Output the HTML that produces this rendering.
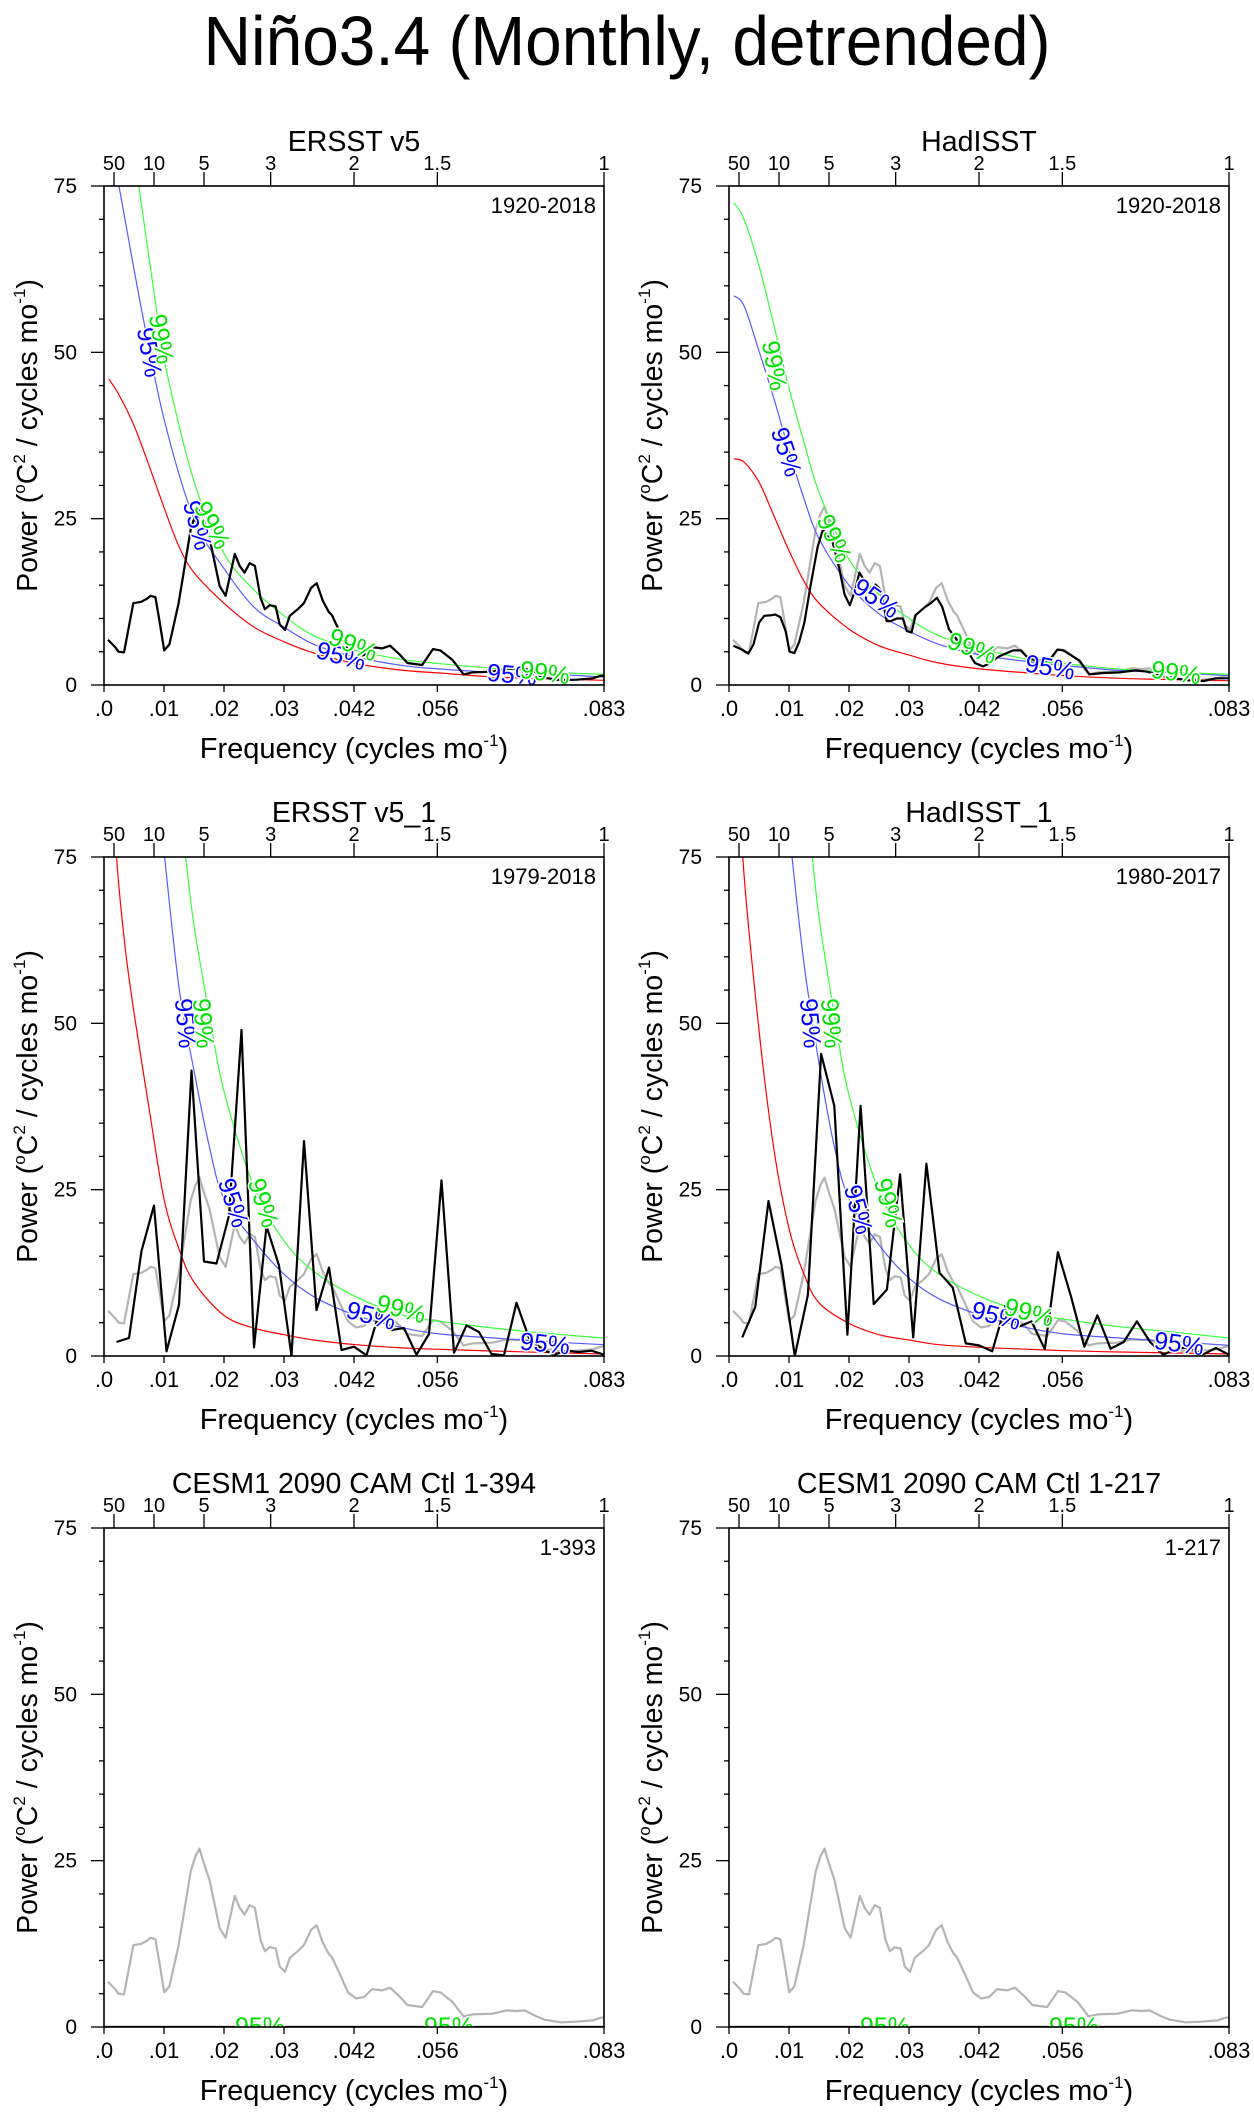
<!DOCTYPE html>
<html><head><meta charset="utf-8"><title>Niño3.4 spectra</title>
<style>
html,body{margin:0;padding:0;background:#fff;}
svg{display:block;font-family:"Liberation Sans",sans-serif;}
</style></head>
<body>
<svg id="fig" width="1254" height="2113" viewBox="0 0 1254 2113" xmlns="http://www.w3.org/2000/svg">
<rect x="0" y="0" width="1254" height="2113" fill="#fff"/>
<text x="627" y="65" font-size="70" text-anchor="middle" textLength="847" lengthAdjust="spacingAndGlyphs">Niño3.4 (Monthly, detrended)</text>
</svg>
<script>
// ---- data ----
const xTickVals=[0,0.01,0.02,0.03,1/24,1/18,1/12];
const xTickLabels=[".0",".01",".02",".03",".042",".056",".083"];
const periodTicks=[50,10,5,3,2,1.5,1];
const yTickVals=[0,25,50,75];

// ERSST v5 1920-2018 (also gray reference in other panels)
const ersstF=[0.00067,0.00187,0.00241,0.00334,0.00488,0.00622,0.00722,0.00776,0.00856,0.00923,0.01003,0.0109,0.01244,0.01338,0.01445,0.01525,0.01592,0.01672,0.01759,0.01926,0.02026,0.0218,0.02261,0.02341,0.02428,0.02515,0.02608,0.02682,0.02762,0.02862,0.02929,0.03016,0.03097,0.0323,0.03331,0.03451,0.03545,0.03645,0.03745,0.03799,0.03933,0.04066,0.042,0.04334,0.04468,0.04635,0.04769,0.04936,0.05056,0.05304,0.05484,0.05605,0.05805,0.05993,0.0614,0.06474,0.06708,0.06875,0.07009,0.07209,0.07343,0.07611,0.07879,0.08146,0.0828,0.08333];
const ersstV=[6.8,5.7,5.0,4.9,12.3,12.5,13.0,13.4,13.2,9.7,5.2,6.1,12.3,17.5,23.4,25.7,26.8,24.4,22.1,14.9,13.4,19.7,17.9,16.9,18.3,17.9,13.1,11.4,12.0,11.8,9.1,8.3,10.4,11.4,12.3,14.6,15.3,12.7,11.0,10.5,7.9,5.2,4.3,4.5,5.7,5.5,5.9,4.5,3.3,3.0,5.4,5.2,3.8,1.6,1.9,2.0,2.5,2.4,2.5,1.6,1.1,0.7,0.8,1.0,1.4,1.4];
// HadISST 1920-2018
const hadF=[0.00074,0.00221,0.00321,0.00408,0.00502,0.00589,0.00722,0.00769,0.00856,0.00943,0.0101,0.0109,0.0117,0.01257,0.01358,0.01478,0.01572,0.01625,0.01726,0.01839,0.01926,0.02013,0.02093,0.02174,0.02261,0.02348,0.02441,0.02528,0.02628,0.02695,0.02796,0.02896,0.02963,0.03043,0.0311,0.03264,0.03364,0.03465,0.03551,0.03665,0.03799,0.03933,0.041,0.04234,0.04334,0.04501,0.04735,0.04869,0.04969,0.05103,0.05337,0.05471,0.05571,0.05839,0.06006,0.0624,0.06507,0.06775,0.06976,0.07176,0.07644,0.07912,0.08113,0.08333];
const hadV=[5.9,5.3,4.7,6.1,9.4,10.4,10.5,10.6,10.2,8.1,5.0,4.8,6.5,9.4,14.9,20.8,23.5,22.8,21.5,17.5,13.6,12.0,14.0,16.9,15.6,14.4,15.1,14.3,9.6,9.6,10.0,10.0,8.1,7.9,10.5,11.7,12.3,13.1,11.8,8.4,6.8,5.7,3.3,2.8,3.2,4.3,5.2,5.2,4.2,3.7,3.7,5.3,5.2,3.7,1.6,1.8,1.9,2.2,2.0,1.4,0.7,0.6,1.0,1.0];
// ERSST v5_1 1979-2018 (N=480 months)
const ersst1N=480;
const ersst1V=[2.1,2.7,15.8,22.6,0.7,7.7,42.9,14.2,13.9,21.1,49,1.3,19.5,13.6,0,32.3,6.9,13.3,0.9,1.4,0.1,6.4,3.9,4.2,0.2,3.3,26.4,0.5,4.6,3.6,0.3,0.1,8.0,2.7,1.1,0.2,0.8,0.6,0.8,0.2];
// HadISST_1 1980-2017 (N=456 months)
const had1N=456;
const had1V=[2.8,7.4,23.3,13.6,0,9.2,45.4,37.6,3.2,37.6,7.8,10,27.3,2.8,28.9,12.5,10.3,1.9,1.6,0.7,7.5,4.4,5.2,1.0,15.6,8.9,1.4,6.1,1.1,2.1,5.2,2.1,0.2,1.1,1.3,0.2,1.2,0.2];

// red-noise / confidence curves
const p1RedF=[0.0008,0.0025,0.005,0.0075,0.01,0.0125,0.015,0.02,0.025,0.03,0.035,0.042,0.05,0.056,0.065,0.075,0.0833];
const p1RedV=[46,43.6,39,33,26.7,20.8,16.9,12.3,8.7,6.5,4.8,3.2,2.2,1.8,1.2,0.9,0.7];
const p1BlueF=[0.0025,0.0062,0.01,0.015,0.02,0.025,0.03,0.035,0.042,0.05,0.056,0.065,0.075,0.0833];
const p1BlueV=[75,56.7,40,25,17.5,11.7,8.7,6.1,4.2,2.9,2.4,1.9,1.6,1.2];
const p1GreenF=[0.0058,0.0087,0.01,0.015,0.02,0.025,0.03,0.035,0.042,0.05,0.056,0.065,0.075,0.0833];
const p1GreenV=[75,56.7,48.9,30.6,19.8,14.3,10.4,7.4,5.2,3.8,3.2,2.5,1.9,1.6];

const p2F=[0.0008,0.0025,0.005,0.0075,0.01,0.0125,0.015,0.02,0.025,0.03,0.035,0.042,0.05,0.056,0.065,0.075,0.0833];
const p2RedV=[34,33.5,30.5,25.4,20.2,15.6,12.3,8.4,5.9,4.5,3.3,2.4,1.8,1.4,1.0,0.8,0.65];
const p2BlueV=[58.5,57,50.2,43,35.2,28,22,15,10.7,8.1,6.1,4.5,3.5,2.9,2.2,1.8,1.4];
const p2GreenV=[72.5,70,63,54,44.6,36.5,29,18.9,13.6,10,7.4,5.5,3.8,3.2,2.4,1.9,1.6];

const p3RedF=[0.0015,0.0021,0.0035,0.005,0.0075,0.01,0.0125,0.015,0.02,0.025,0.03,0.035,0.042,0.05,0.056,0.065,0.075,0.0833];
const p3RedV=[90,75,61.6,51.6,37.3,23.6,16.1,11.1,6.1,4.2,3.2,2.4,1.7,1.2,1.0,0.75,0.5,0.3];
const p3BlueF=[0.0101,0.0125,0.015,0.0175,0.02,0.025,0.03,0.035,0.042,0.05,0.056,0.065,0.075,0.0833];
const p3BlueV=[75,55.4,42.9,31.7,23.6,17.3,12.3,8.9,6.1,4.2,3.3,2.7,2.1,1.7];
const p3GreenF=[0.0136,0.015,0.0175,0.02,0.025,0.03,0.035,0.042,0.05,0.056,0.065,0.075,0.0833];
const p3GreenV=[75,64.7,51.6,39.8,25.4,17.3,12.7,8.9,6.1,5.2,4.2,3.3,2.7];

const p4RedF=[0.0018,0.0023,0.005,0.0075,0.01,0.0125,0.015,0.02,0.025,0.03,0.035,0.042,0.05,0.056,0.065,0.075,0.0833];
const p4RedV=[95,75,49,31,19.2,12.3,8,4.9,3.2,2.4,1.7,1.3,1.0,0.8,0.6,0.45,0.3];
const p4BlueF=[0.0105,0.0125,0.015,0.0175,0.02,0.025,0.03,0.035,0.042,0.05,0.056,0.065,0.075,0.0833];
const p4BlueV=[75,59,44,31.7,23.6,16.7,11.7,8.6,6.1,4.2,3.3,2.7,2.1,1.6];
const p4GreenF=[0.0139,0.015,0.0175,0.02,0.025,0.03,0.035,0.042,0.05,0.056,0.065,0.075,0.0833];
const p4GreenV=[75,66,51.6,39.2,24.8,16.7,12.3,8.9,6.4,5.5,4.4,3.5,2.7];

const zeroF=[0,0.0833];
const zeroV=[0,0];

// ---- layout ----
const NS="http://www.w3.org/2000/svg";
const svg=document.getElementById("fig");
const W=500,H=499,FMAX=1/12,YMAX=75;
function el(tag,attrs,parent){const e=document.createElementNS(NS,tag);for(const k in attrs)e.setAttribute(k,attrs[k]);(parent||svg).appendChild(e);return e;}
function mkX(px){return f=>px+f/FMAX*W;}
function mkY(py){return v=>py+H-v/YMAX*H;}

const panels=[
 {name:"ersst-v5",title:"ERSST v5",years:"1920-2018",px:104,py:186,
  red:[p1RedF,p1RedV],blue:[p1BlueF,p1BlueV],green:[p1GreenF,p1GreenV],gray:true,black:[ersstF,ersstV],
  labels:[["95%","b",0.0075,50,80],["99%","g",0.0095,52,80],["95%","b",0.0155,24,75],["99%","g",0.018,24,62],["95%","b",0.0395,4.3,15],["99%","g",0.0415,6,22],["95%","b",0.068,1.5,5],["99%","g",0.0735,1.8,8]]},
 {name:"hadisst",title:"HadISST",years:"1920-2018",px:729,py:186,
  red:[p2F,p2RedV],blue:[p2F,p2BlueV],green:[p2F,p2GreenV],gray:true,black:[hadF,hadV],
  labels:[["99%","g",0.0075,48,80],["95%","b",0.0095,35,72],["99%","g",0.0175,22,65],["95%","b",0.0245,13,35],["99%","g",0.0405,5.5,20],["95%","b",0.0535,2.6,10],["99%","g",0.0745,1.8,8]]},
 {name:"ersst-v5-1",title:"ERSST v5_1",years:"1979-2018",px:104,py:857,
  red:[p3RedF,p3RedV],blue:[p3BlueF,p3BlueV],green:[p3GreenF,p3GreenV],gray:true,blackN:[ersst1N,ersst1V],
  labels:[["95%","b",0.0135,50,85],["99%","g",0.0165,50,85],["95%","b",0.0215,23,72],["99%","g",0.0265,23,72],["95%","b",0.0445,6,15],["99%","g",0.0495,7,15],["95%","b",0.0735,1.8,6]]},
 {name:"hadisst-1",title:"HadISST_1",years:"1980-2017",px:729,py:857,
  red:[p4RedF,p4RedV],blue:[p4BlueF,p4BlueV],green:[p4GreenF,p4GreenV],gray:true,blackN:[had1N,had1V],
  labels:[["95%","b",0.0135,50,85],["99%","g",0.017,50,85],["95%","b",0.0215,22,75],["99%","g",0.0265,23,75],["95%","b",0.0445,6,15],["99%","g",0.05,6.5,15],["95%","b",0.075,1.8,8]]},
 {name:"cesm1-394",title:"CESM1 2090 CAM Ctl 1-394",years:"1-393",px:104,py:1528,
  gray:true,black:[zeroF,zeroV],labels:[["95%","g",0.026,0,0],["95%","g",0.0575,0,0]]},
 {name:"cesm1-217",title:"CESM1 2090 CAM Ctl 1-217",years:"1-217",px:729,py:1528,
  gray:true,black:[zeroF,zeroV],labels:[["95%","g",0.026,0,0],["95%","g",0.0575,0,0]]}
];

function smoothPath(pts){
  let d="M"+pts[0][0].toFixed(1)+","+pts[0][1].toFixed(1);
  for(let i=0;i<pts.length-1;i++){
    const p0=pts[Math.max(0,i-1)],p1=pts[i],p2=pts[i+1],p3=pts[Math.min(pts.length-1,i+2)];
    const c1=[p1[0]+(p2[0]-p0[0])/6,p1[1]+(p2[1]-p0[1])/6];
    const c2=[p2[0]-(p3[0]-p1[0])/6,p2[1]-(p3[1]-p1[1])/6];
    d+=" C"+c1[0].toFixed(1)+","+c1[1].toFixed(1)+" "+c2[0].toFixed(1)+","+c2[1].toFixed(1)+" "+p2[0].toFixed(1)+","+p2[1].toFixed(1);
  }
  return d;
}
function linePath(pts){return "M"+pts.map(p=>p[0].toFixed(1)+","+p[1].toFixed(1)).join(" L");}

panels.forEach((P,pi)=>{
  const X=mkX(P.px),Y=mkY(P.py);
  const g=el("g",{});
  
  
  const cid="clip"+pi;
  const cp=el("clipPath",{id:cid},g);
  el("rect",{x:P.px,y:P.py,width:W,height:H},cp);
  const plot=el("g",{"clip-path":"url(#"+cid+")"},g);

  if(P.gray){
    const pts=ersstF.map((f,i)=>[X(f),Y(ersstV[i])]);
    const gp=el("path",{d:linePath(pts),fill:"none",stroke:"#b4b4b4","stroke-width":2.2,"stroke-linejoin":"round"},plot);
    
    
  }
  const curves=[["red","#ff0000","markov-red-noise-line"],["blue","#5a5aff","confidence-95-line"],["green","#3cff3c","confidence-99-line"]];
  curves.forEach(c=>{
    if(!P[c[0]])return;
    const F=P[c[0]][0],V=P[c[0]][1];
    const pts=F.map((f,i)=>[X(f),Y(V[i])]);
    const cp2=el("path",{d:smoothPath(pts),fill:"none",stroke:c[1],"stroke-width":1.2},plot);
    
    
  });
  let bpts=null;
  if(P.black){bpts=P.black[0].map((f,i)=>[X(f),Y(P.black[1][i])]);}
  if(P.blackN){const N=P.blackN[0];bpts=P.blackN[1].map((v,i)=>[X((i+1)/N),Y(v)]);}
  if(bpts){
    const bp=el("path",{d:linePath(bpts),fill:"none",stroke:"#000","stroke-width":2.2,"stroke-linejoin":"round"},plot);
    
    
  }
  P.labels.forEach(L=>{
    const x=X(L[2]),y=Y(L[3]);
    const t=el("text",{x:x,y:y,"font-size":25,"text-anchor":"middle","dominant-baseline":"central",fill:L[1]==="b"?"#0000ff":"#00e000",stroke:"#fff","stroke-width":3,"paint-order":"stroke",transform:"rotate("+L[4]+" "+x+" "+y+")"},plot);
    t.textContent=L[0];
    
    
  });
  const fr=el("rect",{x:P.px,y:P.py,width:W,height:H,fill:"none",stroke:"#000","stroke-width":1.6},g);
  
  
  for(let v=0;v<=75;v+=5){
    const major=yTickVals.indexOf(v)>=0;
    el("line",{x1:P.px-(major?13:5),x2:P.px,y1:Y(v),y2:Y(v),stroke:"#000","stroke-width":1.3},g);
  }
  yTickVals.forEach(v=>{
    const t=el("text",{x:P.px-27,y:Y(v)+7,"font-size":21,"text-anchor":"end"},g);
    t.textContent=String(v);
    
    
  });
  xTickVals.forEach((f,i)=>{
    el("line",{x1:X(f),x2:X(f),y1:P.py+H,y2:P.py+H+7,stroke:"#000","stroke-width":1.3},g);
    const t=el("text",{x:X(f),y:P.py+H+31,"font-size":22,"text-anchor":"middle"},g);
    t.textContent=xTickLabels[i];
    
    
  });
  periodTicks.forEach(p=>{
    const f=1/(12*p);
    el("line",{x1:X(f),x2:X(f),y1:P.py-14,y2:P.py,stroke:"#000","stroke-width":1.3},g);
    const t=el("text",{x:X(f),y:P.py-16,"font-size":20,"text-anchor":"middle"},g);
    t.textContent=String(p);
    
    
  });
  const tt=el("text",{x:P.px+W/2,y:P.py-35,"font-size":28.5,"text-anchor":"middle"},g);
  tt.textContent=P.title;
  
  
  const yr=el("text",{x:P.px+W-8,y:P.py+27,"font-size":22,"text-anchor":"end"},g);
  yr.textContent=P.years;
  
  
  const xt=el("text",{x:P.px+W/2,y:P.py+H+73,"font-size":29,"text-anchor":"middle"},g);
  xt.innerHTML='Frequency (cycles mo<tspan font-size="17" dy="-12">-1</tspan><tspan dy="12">)</tspan>';
  
  
  const yc=P.py+H/2, yx=P.px-67;
  const yt=el("text",{x:yx,y:yc,"font-size":28.5,"text-anchor":"middle",transform:"rotate(-90 "+yx+" "+yc+")"},g);
  yt.innerHTML='Power (<tspan font-size="17" dy="-12">o</tspan><tspan dy="12">C</tspan><tspan font-size="17" dy="-12">2</tspan><tspan dy="12"> / cycles mo</tspan><tspan font-size="17" dy="-12">-1</tspan><tspan dy="12">)</tspan>';
  
  
});
</script>
</body></html>
